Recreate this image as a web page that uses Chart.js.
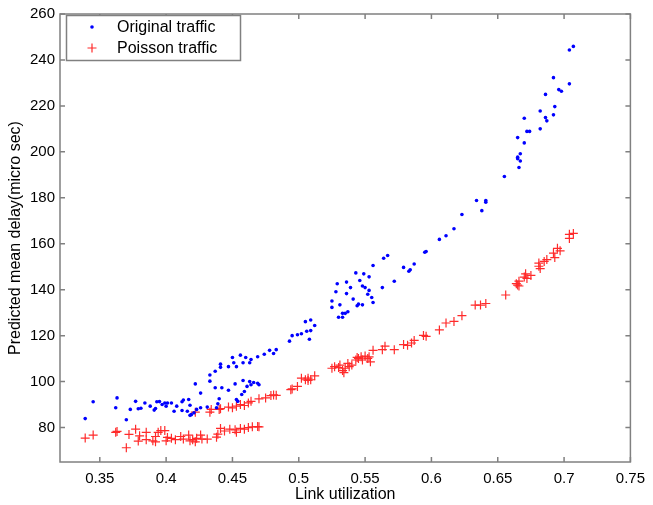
<!DOCTYPE html>
<html>
<head>
<meta charset="utf-8">
<script src="https://cdn.jsdelivr.net/npm/chart.js@4.4.1/dist/chart.umd.min.js"></script>
<style>
  html, body { margin: 0; padding: 0; background: #fff; }
  #wrap { width: 653px; height: 505px; }
</style>
</head>
<body>
<div id="wrap"><canvas id="delay-chart" width="653" height="505"></canvas></div>
<script>
// values
const origX = [0.339,0.345,0.362,0.363,0.370,0.373,0.377,0.379,0.381,0.384,0.388,0.391,0.392,0.393,0.395,0.397,0.399,0.400,0.401,0.404,
  0.406,0.408,0.412,0.412,0.413,0.416,0.417,0.418,0.418,0.419,0.421,0.422,0.423,0.426,0.426,0.431,0.433,0.433,0.437,0.437,
  0.438,0.439,0.440,0.441,0.441,0.442,0.447,0.447,0.450,0.451,0.452,0.453,0.453,0.454,0.456,0.457,0.458,0.458,0.459,0.460,
  0.461,0.463,0.463,0.464,0.464,0.466,0.469,0.469,0.470,0.474,0.478,0.481,0.483,
  0.493,0.495,0.499,0.502,0.505,0.506,0.508,0.509,0.509,0.512,0.525,0.525,0.528,0.529,0.530,0.531,0.533,0.533,0.535,0.536,
  0.536,0.537,0.539,0.541,0.543,0.544,0.545,0.546,0.548,0.548,0.549,0.550,0.552,0.553,0.553,0.555,0.556,0.556,0.563,0.564,
  0.567,0.572,0.579,0.583,0.584,0.587,0.595,0.596,0.606,0.611,0.617,0.623,0.634,0.638,0.641,0.641,0.655,0.665,0.665,0.665,
  0.666,0.667,0.667,0.670,0.670,0.672,0.674,0.682,0.682,0.686,0.686,0.687,0.692,0.692,0.693,0.696,0.698,0.704,0.704,0.707];
const origY = [83.9,91.2,88.6,92.9,83.4,87.9,91.4,88.2,88.4,90.7,89.3,87.6,88.3,91.2,91.3,90.0,90.7,89.3,90.7,90.7,
  87.1,89.3,91.2,87.4,92.0,87.1,92.2,89.7,85.3,85.6,86.4,99.0,87.9,88.6,95.0,88.9,102.9,100.2,104.5,97.3,
  88.6,90.3,92.5,107.6,106.2,97.3,106.5,96.2,110.5,108.2,99.0,106.5,92.2,91.4,111.5,94.4,100.5,108.2,95.7,110.5,
  97.9,100.0,108.2,98.6,109.6,99.6,99.3,110.8,98.6,111.9,113.6,112.2,113.9,
  117.6,120.0,120.4,120.8,126.1,121.9,118.4,122.2,126.8,124.4,135.1,132.3,139.1,142.6,128.0,133.4,129.7,128.0,129.7,138.3,
  143.3,130.4,140.9,135.9,147.3,133.0,133.7,144.0,133.4,141.6,146.9,140.9,138.0,139.7,145.6,136.6,134.4,150.5,140.9,153.7,
  154.9,143.7,149.7,148.0,148.7,151.2,156.3,156.6,161.9,163.5,166.5,172.7,178.8,174.4,178.8,178.1,189.3,197.0,197.7,206.2,
  193.2,196.0,199.2,203.9,214.6,208.9,208.9,210.0,217.8,225.0,214.9,213.5,232.3,216.1,219.7,227.1,226.4,229.6,244.3,245.9];

const poisX = [0.339,0.345,0.362,0.363,0.370,0.372,0.377,0.379,0.380,0.385,0.385,0.390,0.392,0.392,0.394,0.396,0.399,0.400,0.401,0.404,
  0.407,0.411,0.413,0.417,0.418,0.420,0.422,0.423,0.426,0.427,0.431,0.438,0.439,0.441,0.444,0.448,0.452,0.453,0.456,0.459,
  0.462,0.465,0.469,0.470,
  0.422,0.433,0.434,0.440,0.441,0.447,0.450,0.453,0.456,0.459,0.462,0.464,0.470,0.475,0.479,0.481,0.483,0.494,0.495,0.499,
  0.502,0.505,0.507,0.507,0.509,0.512,0.525,0.527,0.530,0.531,0.533,0.534,0.535,0.537,0.538,0.540,0.543,0.544,0.545,0.547,
  0.548,0.550,0.552,0.553,0.554,0.556,0.563,0.565,0.572,0.579,0.582,0.585,0.587,0.594,0.596,0.606,0.611,0.617,0.623,0.633,
  0.637,0.641,0.656,0.664,0.665,0.666,0.666,0.670,0.671,0.672,0.675,0.681,0.682,0.681,0.685,0.687,0.692,0.693,0.695,0.697,
  0.704,0.704,0.707];
const poisY = [75.4,76.7,77.9,78.3,71.2,77.0,79.3,74.1,76.4,77.9,74.7,74.2,73.8,76.1,77.9,78.7,78.7,74.2,75.7,75.3,
  74.7,76.1,75.0,76.7,74.2,74.7,73.8,75.3,76.7,75.0,75.0,75.8,77.1,79.6,78.5,79.3,79.0,77.9,79.6,79.3,
  80.0,80.3,80.4,80.3,
  86.7,86.7,87.9,87.9,88.2,88.9,88.6,89.3,90.0,89.6,90.7,91.4,92.5,92.9,93.9,94.2,94.0,96.5,96.8,97.9,
  101.5,100.8,100.5,101.5,100.8,102.5,105.8,106.5,106.1,107.2,104.8,103.9,105.8,107.9,106.5,107.2,109.4,110.5,110.1,110.8,
  109.4,111.1,110.1,110.8,108.6,113.6,113.9,115.4,113.9,116.1,115.8,116.8,117.9,120.1,119.7,122.5,125.5,126.2,128.7,133.3,
  133.3,134.0,137.7,142.6,142.0,141.6,143.7,145.5,146.9,144.9,146.2,150.2,149.2,151.6,152.3,153.1,155.9,154.0,158.0,156.9,
  162.3,164.1,164.5];

const xTicks = [0.35, 0.4, 0.45, 0.5, 0.55, 0.6, 0.65, 0.7, 0.75];
const yTicks = [80, 100, 120, 140, 160, 180, 200, 220, 240, 260];

const FONT = "'Liberation Sans', Arial, Helvetica, sans-serif";
const AXIS_GRAY = '#808080';

function toPoints(xs, ys) {
    return xs.map((x, i) => ({ x: x, y: ys[i] }));
}

// MATLAB style box with inward ticks on all four sides
const boxPlugin = {
    id: 'matlabBox',
    afterDatasetsDraw(chart) {
        const { ctx, chartArea: a, scales } = chart;
        ctx.save();
        ctx.strokeStyle = AXIS_GRAY;
        ctx.lineWidth = 1.5;
        ctx.strokeRect(a.left, a.top, a.right - a.left, a.bottom - a.top);
        ctx.beginPath();
        xTicks.forEach(v => {
            let px = scales.x.getPixelForValue(v);
            ctx.moveTo(px, a.bottom); ctx.lineTo(px, a.bottom - 5);
            ctx.moveTo(px, a.top); ctx.lineTo(px, a.top + 5);
        });
        yTicks.forEach(v => {
            let py = scales.y.getPixelForValue(v);
            ctx.moveTo(a.left, py); ctx.lineTo(a.left + 5, py);
            ctx.moveTo(a.right, py); ctx.lineTo(a.right - 5, py);
        });
        ctx.stroke();
        ctx.restore();
    },
    afterDraw(chart) {
        // legend box in the upper left corner
        const ctx = chart.ctx;
        const bx = 66.5, by = 15.5, bw = 174, bh = 45;
        ctx.save();
        ctx.fillStyle = '#fff';
        ctx.fillRect(bx, by, bw, bh);
        ctx.strokeStyle = AXIS_GRAY;
        ctx.lineWidth = 1.5;
        ctx.strokeRect(bx, by, bw, bh);
        ctx.font = '16px ' + FONT;
        ctx.fillStyle = '#000';
        ctx.textBaseline = 'middle';
        const rows = [27, 48];
        chart.data.datasets.forEach((ds, i) => {
            let y = rows[i];
            if (ds.pointStyle == 'cross') {
                ctx.strokeStyle = ds.borderColor;
                ctx.lineWidth = 1.2;
                ctx.beginPath();
                ctx.moveTo(87.5, y); ctx.lineTo(96.5, y);
                ctx.moveTo(92, y - 4.5); ctx.lineTo(92, y + 4.5);
                ctx.stroke();
            } else {
                ctx.fillStyle = ds.backgroundColor;
                ctx.beginPath();
                ctx.arc(92, y, 1.8, 0, Math.PI * 2);
                ctx.fill();
            }
            ctx.fillStyle = '#000';
            ctx.fillText(ds.label, 117, y + 1);
        });
        ctx.restore();
    }
};

const ctx = document.getElementById('delay-chart').getContext('2d');
const chart = new Chart(ctx, {
    type: 'scatter',
    data: {
        datasets: [{
            label: 'Original traffic',
            data: toPoints(origX, origY),
            pointStyle: 'circle',
            radius: 1.8,
            borderWidth: 0,
            backgroundColor: '#0000ff',
            borderColor: '#0000ff'
        }, {
            label: 'Poisson traffic',
            data: toPoints(poisX, poisY),
            pointStyle: 'cross',
            radius: 4.5,
            borderWidth: 1.2,
            borderColor: '#ff2a2a',
            backgroundColor: '#ff2a2a'
        }]
    },
    options: {
        responsive: false,
        animation: false,
        layout: { padding: { top: 9, right: 15, left: 0, bottom: 0 } },
        plugins: {
            legend: { display: false },
            tooltip: { enabled: false }
        },
        scales: {
            x: {
                type: 'linear',
                min: 0.32,
                max: 0.75,
                afterBuildTicks: s => { s.ticks = xTicks.map(v => ({ value: v })); },
                afterFit: s => { s.height = 43; },
                grid: { display: false, drawTicks: false },
                border: { display: false },
                ticks: {
                    autoSkip: false,
                    maxRotation: 0,
                    padding: 8,
                    color: '#000',
                    font: { family: FONT, size: 15 },
                    callback: v => String(+v.toFixed(2))
                },
                title: {
                    display: true,
                    text: 'Link utilization',
                    color: '#000',
                    font: { family: FONT, size: 16 },
                    padding: { top: 0, bottom: 1 }
                }
            },
            y: {
                type: 'linear',
                min: 65,
                max: 260,
                afterBuildTicks: s => { s.ticks = yTicks.map(v => ({ value: v })); },
                afterFit: s => { s.width = 60; },
                grid: { display: false, drawTicks: false },
                border: { display: false },
                ticks: {
                    autoSkip: false,
                    padding: 5,
                    color: '#000',
                    font: { family: FONT, size: 15 }
                },
                title: {
                    display: true,
                    text: 'Predicted mean delay(micro sec)',
                    color: '#000',
                    font: { family: FONT, size: 16 },
                    padding: { top: 6, bottom: 0 }
                }
            }
        }
    },
    plugins: [boxPlugin]
});
</script>
</body>
</html>
